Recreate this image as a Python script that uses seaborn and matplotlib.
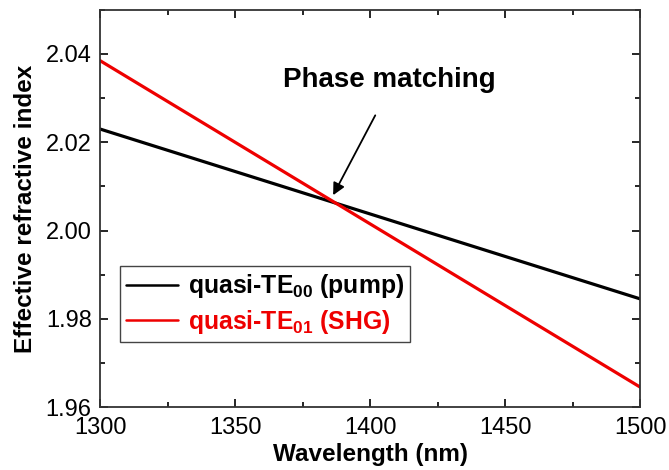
import matplotlib
matplotlib.use("Agg")
import matplotlib.pyplot as plt
from matplotlib.ticker import MultipleLocator, FormatStrFormatter
from matplotlib.lines import Line2D
import pandas as pd
import seaborn as sns

wavelength = [1300, 1500]
neff_pump = [2.0230, 1.9845]
neff_shg = [2.0385, 1.9645]
labels = [r"quasi-TE$_{\mathbf{00}}$ (pump)", r"quasi-TE$_{\mathbf{01}}$ (SHG)"]
colors = ["black", "#ee0000"]

sns.set_style("ticks", {"text.color": "black", "axes.labelcolor": "black",
                        "xtick.color": "black", "ytick.color": "black",
                        "axes.edgecolor": "#333333"})
plt.rcParams["font.family"] = ["Liberation Sans", "DejaVu Sans"]
plt.rcParams["mathtext.fontset"] = "custom"
plt.rcParams["mathtext.rm"] = "Liberation Sans:bold"
plt.rcParams["mathtext.bf"] = "Liberation Sans:bold"
plt.rcParams["mathtext.it"] = "Liberation Sans:bold"

df = pd.DataFrame({
    "Wavelength": wavelength * 2,
    "neff": neff_pump + neff_shg,
    "mode": [labels[0]] * 2 + [labels[1]] * 2,
})

fig, ax = plt.subplots(figsize=(6.69, 4.70), dpi=100)
fig.subplots_adjust(left=0.1495, right=0.957, top=0.979, bottom=0.134)

sns.lineplot(data=df, x="Wavelength", y="neff", hue="mode", palette=colors,
             linewidth=2.3, ax=ax, legend=False)

ax.set_xlim(1300, 1500)
ax.set_ylim(1.96, 2.05)
ax.xaxis.set_major_locator(MultipleLocator(50))
ax.xaxis.set_minor_locator(MultipleLocator(25))
ax.yaxis.set_major_locator(MultipleLocator(0.02))
ax.yaxis.set_minor_locator(MultipleLocator(0.01))
ax.yaxis.set_major_formatter(FormatStrFormatter("%.2f"))
ax.tick_params(which="both", direction="in", top=True, right=True,
               labelsize=17, width=1.2, colors="black")
ax.tick_params(which="major", length=6)
ax.tick_params(which="minor", length=3.5)
ax.tick_params(axis="x", which="major", pad=7)
ax.tick_params(axis="y", which="major", pad=6)
for s in ax.spines.values():
    s.set_visible(True)
    s.set_linewidth(1.3)
    s.set_color("#333333")

ax.set_xlabel("Wavelength (nm)", fontsize=17.5, fontweight="bold", labelpad=3)
ax.set_ylabel("Effective refractive index", fontsize=17.5, fontweight="bold", labelpad=6)

handles = [Line2D([], [], color=c, lw=1.8) for c in colors]
leg = ax.legend(handles, labels, loc="lower left", bbox_to_anchor=(0.037, 0.164),
                borderaxespad=0, fancybox=False, framealpha=1, edgecolor="#444444",
                prop={"weight": "bold", "size": 17.8}, handlelength=2.1,
                borderpad=0.25, labelspacing=0.3, handletextpad=0.4)
leg.get_frame().set_linewidth(1.0)
for t, c in zip(leg.get_texts(), colors):
    t.set_color(c)

ax.annotate("", xy=(1386.3, 2.0080), xytext=(1401.9, 2.0261),
            arrowprops=dict(arrowstyle="-|>", color="black", lw=1.3,
                            mutation_scale=18, shrinkA=0, shrinkB=0))
ax.text(1407, 2.0342, "Phase matching", ha="center", va="center",
        fontsize=20, fontweight="bold")

fig.savefig("out.png", dpi=100)
